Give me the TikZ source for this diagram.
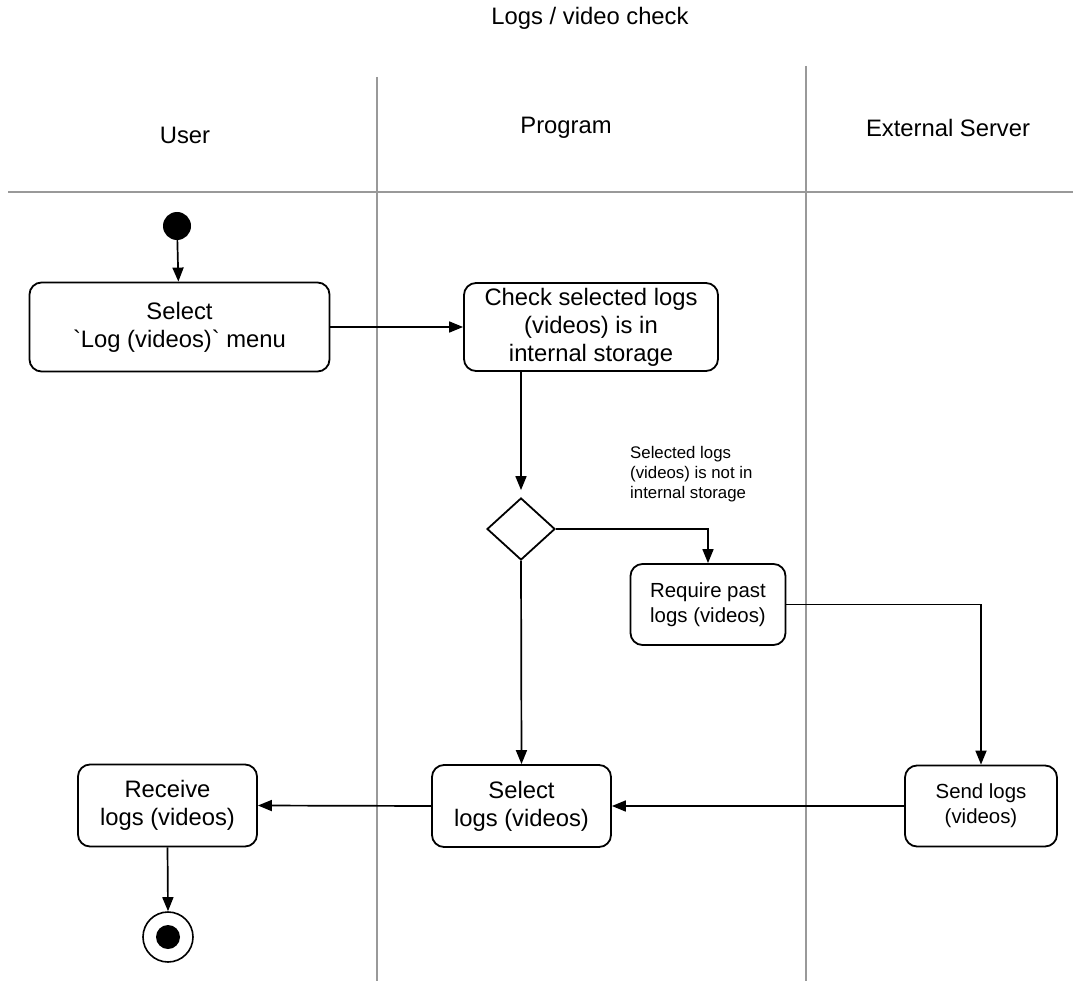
\documentclass[tikz,border=0pt]{standalone}
\usepackage{fontspec}
\setmainfont{Liberation Sans}[Ligatures=TeXOff]
\usetikzlibrary{arrows.meta,shapes.geometric,calc}
\begin{document}
\begin{tikzpicture}[x=1pt,y=-1pt,
  act/.style={draw,line width=1.8pt,rounded corners=12pt,align=center,inner sep=0pt},
  flow/.style={line width=1.7pt,-{Triangle[length=14pt,width=11pt]}},
  lane/.style={draw=black!40,line width=2.5pt},
  big/.style={font=\fontsize{23.8}{28}\selectfont},
  mid/.style={font=\fontsize{20.4}{25}\selectfont},
  small/.style={font=\fontsize{20.4}{25}\selectfont}]
\useasboundingbox (0,0) rectangle (1073,981);

% swimlanes
\draw[lane] (8,192) -- (1073,192);
\draw[lane] (377,77) -- (377,981);
\draw[lane] (806,66) -- (806,981);

\node[big] (title) at (590,18) {Logs / video check};
\node[big] (luser) at (185,135) {User};
\node[big] (lprog) at (566,128) {Program};
\node[big] (lext) at (948,128) {External Server};

% nodes
\node[circle,fill,inner sep=0pt,minimum size=28pt] (start) at (177,226) {};
\node[act,big,minimum width=300pt,minimum height=89pt] (sel) at (179.5,327) {Select\\`Log (videos)` menu};
\node[act,big,minimum width=254pt,minimum height=88pt] (chk) at (591,327) {Check selected logs\\(videos) is in\\internal storage};
\node[diamond,draw,line width=1.8pt,inner sep=0pt,minimum width=68pt,minimum height=62pt] (dia) at (521,529) {};
\node[anchor=north west,inner sep=0pt,align=left,font=\fontsize{16.8}{20}\selectfont] (lbl) at (630,446) {Selected logs\\(videos) is not in\\internal storage};
\node[act,mid,minimum width=155pt,minimum height=81pt] (req) at (708,604.5) {Require past\\logs (videos)};
\node[act,small,minimum width=152pt,minimum height=81pt] (send) at (981,806) {Send logs\\(videos)};
\node[act,big,minimum width=179pt,minimum height=82pt] (pick) at (521.5,806) {Select\\logs (videos)};
\node[act,big,minimum width=179pt,minimum height=82pt] (recv) at (167.5,805.5) {Receive\\logs (videos)};
\node[circle,draw,line width=1.6pt,inner sep=0pt,minimum size=50pt] (end) at (168,937) {};
\fill (end.center) circle (12pt);

% connectors
\draw[flow] (start) -- (sel);
\draw[flow] (sel) -- (chk);
\draw[flow,shorten >=7pt] (chk.south -| dia.north) -- (dia.north);
\draw[flow] (dia.east) -| (req.north);
\draw[flow] (req.east) -| (send.north);
\draw[flow] (dia.south) -- (pick.north);
\draw[flow] (send.west) -- (pick.east);
\draw[flow] (pick.west) -- (recv.east);
\draw[flow] (recv.south) -- (end.north);
\end{tikzpicture}
\end{document}
